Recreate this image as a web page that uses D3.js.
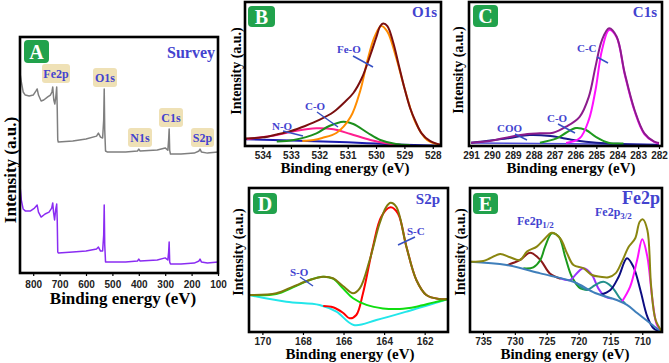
<!DOCTYPE html>
<html lang="en">
<head>
<meta charset="UTF-8">
<title>XPS spectra</title>
<style>
  body { margin: 0; background: #fff; }
  svg { display: block; }
  .tick text { font-family: "Liberation Sans", Arial, sans-serif; font-weight: bold; fill: #222; }
  .serif { font-family: "Liberation Serif", "Times New Roman", serif; font-weight: bold; }
</style>
</head>
<body>
<svg id="fig" width="669" height="363"></svg>
<script src="https://d3js.org/d3.v7.min.js"></script>
<script>
// ---------- data (binding energy eV, intensity a.u.) ----------
const surveyTicks = [800, 700, 600, 500, 400, 300, 200, 100];
const surveyGray = [[850,84.7],[845,81],[838,76.7],[830,75.4],[815,75],[800,75.4],[790,77.1],[785,78],[780,75.4],[770,72.9],[760,73.3],[745,74.6],[735,75.4],[729,76.7],[726,78.8],[722,73.3],[718,71.6],[714,75],[711,78.8],[709,69.9],[707,56.4],[705,55.5],[650,55.9],[600,56.8],[560,58],[553,59.3],[545,57.6],[537,57.2],[533,64.8],[531,78],[529,60.6],[526,51.7],[520,51.3],[450,51.3],[405,51.7],[400,52.5],[395,51.7],[330,52.1],[300,53],[290,52],[287,56.4],[285,61],[283,52],[280,50.4],[240,50.4],[190,50.8],[172,51.7],[168,52.5],[163,51.3],[140,50.8],[100,51.3]];
const surveyPurple = [[850,36.9],[845,30.9],[838,27.1],[830,26.3],[810,26.3],[795,27.5],[785,28.8],[780,25.8],[770,23.7],[755,25],[740,25.8],[730,27.5],[726,29.7],[723,25.8],[719,22.5],[715,26.7],[711,29.2],[709,22.5],[707,8.9],[705,8.5],[650,8.9],[600,9.3],[560,10.2],[553,11],[545,9.3],[537,9.3],[533,16.1],[531,28.8],[529,11.9],[526,4.7],[450,4.7],[405,5.1],[400,5.9],[395,5.1],[330,5.5],[300,6.4],[290,5.5],[287,8.9],[285,13.1],[283,4.7],[280,3.8],[240,3.8],[190,4.2],[172,5.1],[168,5.9],[163,4.7],[140,4.2],[100,4.7]];
const surveyPeaks = ["Fe2p", "O1s", "N1s", "C1s", "S2p"];

const o1sTicks = [534, 533, 532, 531, 530, 529, 528];
const o1sBase = [[534.62,4.7],[533,3.8],[531,2.6],[530,1.7],[529,0.9],[528,0.3],[527.71,0.2]];
const o1sEnvelope = [[534.62,5.2],[534,6],[533.5,8],[533,10.4],[532.5,13.9],[532,18.1],[531.5,23.6],[531.1,30.6],[530.8,36.8],[530.5,47.2],[530.2,63.2],[530,75],[529.85,83.3],[529.75,85],[529.6,83.3],[529.4,72.2],[529.2,56.3],[529,40.3],[528.8,26.4],[528.6,16.7],[528.4,9],[528.1,3.5],[527.71,0.7]];
const o1sFeO = [[532.6,3.5],[532.2,4.2],[531.9,5.6],[531.4,9],[530.9,20.1],[530.55,38.9],[530.3,59.7],[530.05,75.9],[529.82,83.3],[529.6,79.4],[529.3,62],[528.95,36.8],[528.6,16],[528.2,4.2],[527.71,0.7]];
const o1sCO = [[533.5,3.1],[532.9,4.2],[532.1,8.8],[531.65,13.9],[531.15,16.9],[530.8,15.3],[530.3,9.2],[529.85,4.2],[529.3,1.4],[528.8,0.7]];
const o1sNO = [[534.55,4.7],[533.5,7.6],[532.8,10.6],[532.1,12.3],[531.5,11.6],[530.9,8.3],[530.2,4.2],[529.5,1.4],[528.8,0.3]];

const c1sTicks = [291, 290, 289, 288, 287, 286, 285, 284, 283, 282];
const c1sBase = [[291,2.1],[282,1]];
const c1sEnvelope = [[291,2.3],[290.03,3.7],[289.25,6],[288.3,8.3],[287.7,8.8],[287.07,9.2],[286.45,13.4],[285.8,20.3],[285.36,34.2],[285.04,55.1],[284.73,73.6],[284.39,81.7],[284.03,76],[283.64,50.5],[283.17,25],[282.7,8.8],[282.23,3],[282,2.1]];
const c1sCC = [[286.45,2.1],[285.8,5.3],[285.36,18.1],[285.04,38.9],[284.73,66.7],[284.39,80.6],[284.03,75.5],[283.64,49.7],[283.17,24.3],[282.7,8.3],[282.23,2.8],[282,1.7]];
const c1sCO = [[287.7,2.3],[286.9,5.3],[286.45,9.2],[285.98,12.5],[285.5,11.1],[285.04,6.5],[284.42,2.3],[283.7,1.7]];
const c1sCOO = [[291,2.3],[289.25,5.3],[288.2,7.6],[287.2,6.9],[286.1,4.2],[285,2.3],[283.8,1.4],[282,0.7]];

const s2pTicks = [170, 168, 166, 164, 162];
const s2pEnvelope = [[170.66,25.7],[169.31,26.9],[168.49,31.5],[167.67,36.1],[167.01,38.4],[166.52,37.3],[166.03,31.9],[165.53,26.9],[165.2,30.3],[164.71,50],[164.22,75.5],[163.89,87],[163.68,89.8],[163.4,87],[162.9,59.2],[162.41,36.1],[161.92,25.7],[161.26,22.9],[160.85,22.9]];
const s2pSC = [[167,18],[166.52,17.2],[166.03,13.4],[165.7,9.5],[165.37,11.8],[165.04,26.9],[164.55,59.2],[164.14,80.1],[163.68,86.6],[163.32,82.4],[162.9,59.2],[162.41,36.1],[161.92,25.7],[161.26,22.9],[160.85,22.9]];
const s2pSO = [[170.66,25.7],[169.31,26.4],[168.49,31],[167.67,36.1],[167.01,38.4],[166.52,37],[166.03,30.3],[165.53,23.4],[164.87,18.8],[164.06,16.4],[163.23,16],[162.41,17.6],[161.59,20.4],[160.85,22.9]];
const s2pBase = [[170.66,25.7],[168.82,21],[167.18,18.8],[166.35,14.1],[165.5,4.9],[164.38,8.3],[162.74,14.8],[160.85,22.9]];

const fe2pTicks = [735, 730, 725, 720, 715, 710];
const fe2pBase = [[737.04,48.8],[731.3,46.5],[726,40.7],[720.8,34.9],[717.4,27.1],[714,22.2],[712.4,18.8],[710.8,13.2],[709.2,7.6],[708.2,4.2],[707.4,1.4],[706.9,0.3]];
const fe2pEnvelope = [[737.04,48.8],[734.95,49.3],[733.9,51.2],[732.3,54.2],[730.75,51.9],[729.2,50],[728.1,55.8],[726.55,59.3],[725.5,63.9],[724.2,69],[722.9,65.1],[721.8,54.6],[720.8,46.5],[719.2,44.2],[717.9,39.6],[716.6,38.4],[715.3,38],[714.2,40.7],[713.2,48.8],[712.1,59.3],[711.1,65.1],[710.4,76.6],[709.9,78.2],[709.2,70.8],[708.6,31.5],[707.9,8.3],[706.9,0.2]];
const fe2pSat1 = [[731.3,46.3],[729.2,50],[727.6,55.1],[726,50],[724.5,40.7],[722.8,37]];
const fe2pHalf1 = [[728.66,44.2],[727.1,44.9],[726,50],[725.25,59.3],[724.2,68.5],[723.1,66.2],[722.1,52.3],[721.05,38.4],[719.7,30.3],[718.4,29.4]];
const fe2pSat2 = [[722.9,37.3],[721.3,36.1],[720.3,40.7],[719.2,44.2],[717.9,39.6],[716.9,30.3],[715.8,24.5],[714.8,23.3]];
const fe2pSat3 = [[720.3,33.9],[718.7,29.2],[717.4,32.6],[716.1,34.9],[714.8,31.5],[713.5,23.4],[712.7,19.9]];
const fe2pHalf3b = [[716.6,25.8],[715,29.2],[713.7,38.4],[712.4,51.2],[711.4,45.4],[710.3,29.2],[709.2,10.6],[708.2,2.5],[706.9,0.2]];
const fe2pHalf3a = [[713.2,21],[711.9,31.5],[710.8,50],[710,64.4],[709.2,52.3],[708.4,22.2],[707.7,4.9],[706.9,0.2]];

// ---------- drawing ----------
const svg = d3.select("#fig");
const blue = "#4343cf";

function drawPanel(p) {
  const xr = p.xr || [p.l, p.r];
  const x = d3.scaleLinear().domain(p.dom).range(xr);
  const y = d3.scaleLinear().domain([0, 100]).range([p.b, p.t]);
  const g = svg.append("g");

  const line = d3.line()
    .x(d => x(d[0])).y(d => y(d[1]))
    .curve(p.smooth ? d3.curveCatmullRom.alpha(0.5) : d3.curveLinear);

  p.series.forEach(s => {
    g.append("path").datum(s.data)
      .attr("d", line)
      .attr("fill", "none")
      .attr("stroke", s.color)
      .attr("stroke-width", s.w || 2)
      .attr("stroke-linejoin", "round");
  });

  g.append("rect")
    .attr("x", p.l).attr("y", p.t)
    .attr("width", p.r - p.l).attr("height", p.b - p.t)
    .attr("fill", "none").attr("stroke", "#000").attr("stroke-width", 2.6);

  const ax = g.append("g").attr("transform", `translate(0,${p.b})`)
    .call(d3.axisBottom(x).tickValues(p.ticks).tickSize(3).tickPadding(p.pad).tickFormat(d3.format("d")));
  ax.select(".domain").remove();
  ax.selectAll(".tick line").attr("stroke", "#000").attr("stroke-width", 1.2);
  ax.selectAll(".tick text").style("font-size", p.tickSize + "px");

  g.append("text").attr("class", "serif")
    .attr("x", p.xt[0]).attr("y", p.xt[1])
    .attr("text-anchor", "middle").style("font-size", p.xt[2] + "px")
    .text("Binding energy (eV)");
  g.append("text").attr("class", "serif")
    .attr("transform", `translate(${p.yt[0]},${p.yt[1]}) rotate(-90)`)
    .attr("text-anchor", "middle").style("font-size", p.yt[2] + "px")
    .text("Intensity (a.u.)");

  // panel letter
  g.append("rect").attr("x", p.tag[0]).attr("y", p.tag[1])
    .attr("width", p.tag[2]).attr("height", p.tag[3])
    .attr("rx", 4).attr("fill", "#21a24c");
  g.append("text").attr("class", "serif")
    .attr("x", p.tag[0] + p.tag[2] / 2).attr("y", p.tag[1] + p.tag[3] / 2 + 7)
    .attr("text-anchor", "middle").style("font-size", "20px").attr("fill", "#fff")
    .text(p.id);

  g.append("text").attr("class", "serif")
    .attr("x", p.name[1]).attr("y", p.name[2])
    .attr("text-anchor", "end").style("font-size", p.name[3] + "px").attr("fill", blue)
    .text(p.name[0]);

  (p.notes || []).forEach(n => {
    if (n.line) {
      g.append("line").attr("x1", n.line[0]).attr("y1", n.line[1])
        .attr("x2", n.line[2]).attr("y2", n.line[3])
        .attr("stroke", "#3650c4").attr("stroke-width", 1.5);
    }
    const t = g.append("text").attr("class", "serif")
      .attr("x", n.x).attr("y", n.y).style("font-size", (n.size || 11) + "px")
      .attr("fill", blue).attr("text-anchor", n.anchor || "start");
    t.append("tspan").text(n.text);
    if (n.sub) t.append("tspan").attr("dy", 3).style("font-size", "9px").text(n.sub);
  });
  return { x, y, g };
}

// A: survey
const A = drawPanel({
  id: "A", l: 20, t: 37, r: 218, b: 273, dom: [850, 100], ticks: surveyTicks,
  pad: 5, tickSize: 10, smooth: false,
  xt: [123, 304, 17], yt: [16, 170, 17], tag: [24, 40, 25, 23],
  name: ["Survey", 215, 58, 16],
  series: [
    { data: surveyGray, color: "#7f7f7f", w: 1.5 },
    { data: surveyPurple, color: "#8a2cf2", w: 1.5 }
  ]
});
const boxPos = { "Fe2p": [42, 64, 28], "O1s": [93, 68, 24], "N1s": [128, 128, 24], "C1s": [159, 108, 24], "S2p": [191, 128, 23] };
surveyPeaks.forEach(k => {
  const b = boxPos[k];
  A.g.append("rect").attr("x", b[0]).attr("y", b[1]).attr("width", b[2]).attr("height", 19)
    .attr("rx", 3).attr("fill", "#efe1b6");
  A.g.append("text").attr("class", "serif").attr("x", b[0] + b[2] / 2).attr("y", b[1] + 14)
    .attr("text-anchor", "middle").style("font-size", "12px").attr("fill", blue).text(k);
});

// B: O1s
drawPanel({
  id: "B", l: 245, t: 2, r: 441, b: 146, dom: [534.62, 527.71], ticks: o1sTicks,
  pad: 3, tickSize: 10, smooth: true,
  xt: [345, 173, 15], yt: [241, 71, 14], tag: [248, 6, 27, 21],
  name: ["O1s", 437, 17, 15],
  series: [
    { data: o1sBase, color: "#1b1bb0" },
    { data: o1sNO, color: "#ff1f8f" },
    { data: o1sCO, color: "#1c8f1c" },
    { data: o1sFeO, color: "#ff8c00" },
    { data: o1sEnvelope, color: "#7a0f0f" }
  ],
  notes: [
    { text: "Fe-O", x: 337, y: 53, line: [353, 56, 373, 67] },
    { text: "C-O", x: 305, y: 110, line: [317, 112, 338, 127] },
    { text: "N-O", x: 272, y: 130, line: [283, 131, 303, 136] }
  ]
});

// C: C1s
drawPanel({
  id: "C", l: 469, t: 2, r: 662, b: 146, xr: [471, 659], dom: [291, 282], ticks: c1sTicks,
  pad: 3, tickSize: 10, smooth: true,
  xt: [571, 173, 15], yt: [463, 70, 14], tag: [473, 5, 25, 22],
  name: ["C1s", 657, 17, 15],
  series: [
    { data: c1sBase, color: "#4b4bd8", w: 1.5 },
    { data: c1sCOO, color: "#1a1a8c" },
    { data: c1sCO, color: "#1f9a1f" },
    { data: c1sCC, color: "#ff10ff" },
    { data: c1sEnvelope, color: "#8c1c8c" }
  ],
  notes: [
    { text: "C-C", x: 577, y: 52, line: [597, 57, 608, 63] },
    { text: "C-O", x: 547, y: 122, line: [558, 124, 575, 133] },
    { text: "COO", x: 497, y: 132, line: [515, 134, 527, 140] }
  ]
});

// D: S2p
drawPanel({
  id: "D", l: 249, t: 188, r: 448, b: 332, dom: [170.66, 160.85], ticks: s2pTicks,
  pad: 3, tickSize: 10, smooth: true,
  xt: [350, 359, 15], yt: [243, 252, 14], tag: [253, 193, 24, 21],
  name: ["S2p", 440, 204, 15],
  series: [
    { data: s2pBase, color: "#22e6ea" },
    { data: s2pSC, color: "#ff0000" },
    { data: s2pSO, color: "#10dd10" },
    { data: s2pEnvelope, color: "#7d7a0c" }
  ],
  notes: [
    { text: "S-O", x: 290, y: 276, line: [300, 277, 313, 286] },
    { text: "S-C", x: 407, y: 235, line: [415, 237, 398, 245] }
  ]
});

// E: Fe2p
drawPanel({
  id: "E", l: 470, t: 188, r: 662, b: 332, dom: [737.04, 706.9], ticks: fe2pTicks,
  pad: 3, tickSize: 10, smooth: true,
  xt: [565, 359, 15], yt: [465, 252, 14], tag: [473, 193, 25, 21],
  name: ["Fe2p", 660, 204, 18],
  series: [
    { data: fe2pSat1, color: "#8b1a1a" },
    { data: fe2pHalf1, color: "#1c9a1c" },
    { data: fe2pSat2, color: "#9a33ff" },
    { data: fe2pSat3, color: "#23908c" },
    { data: fe2pHalf3b, color: "#0c0c80" },
    { data: fe2pHalf3a, color: "#ff10ff" },
    { data: fe2pBase, color: "#3f7fbb" },
    { data: fe2pEnvelope, color: "#8a8610" }
  ],
  notes: [
    { text: "Fe2p", sub: "1/2", x: 517, y: 225, size: 12 },
    { text: "Fe2p", sub: "3/2", x: 595, y: 216, size: 12 }
  ]
});
</script>
</body>
</html>
